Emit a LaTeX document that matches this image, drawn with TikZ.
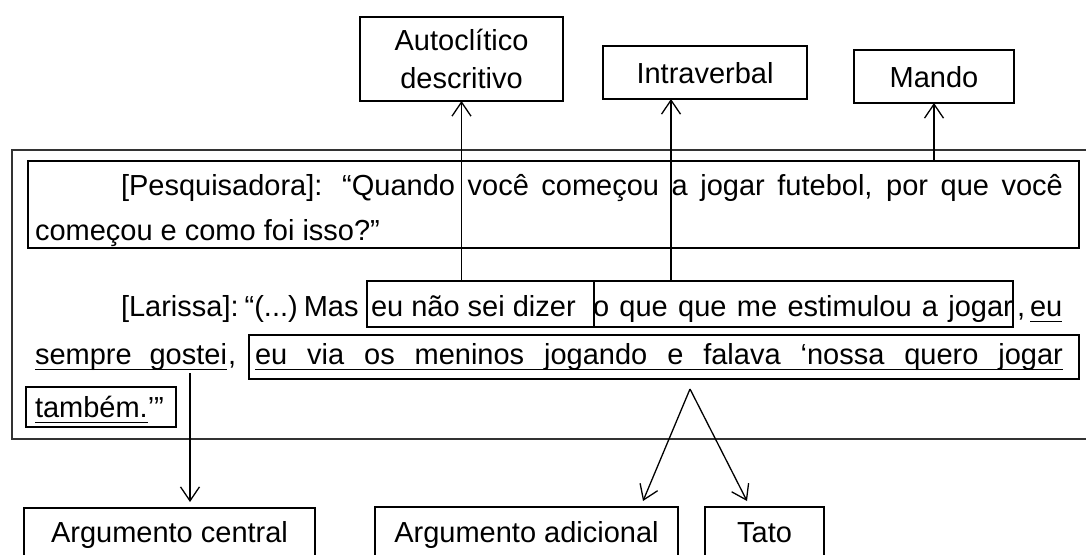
\documentclass[tikz,border=0pt]{standalone}
\usepackage{fontspec}
\setmainfont{Liberation Sans}
\usetikzlibrary{arrows.meta,calc}
\newcommand{\myjust}[2]{\makebox[#1][s]{#2}}
\newcommand{\myul}[2]{\rlap{\rule[-6pt]{#1}{1.2pt}}\makebox[#1][s]{#2}}
\newcommand{\myulnat}[1]{\setbox0\hbox{#1}\rlap{\rule[-6pt]{\wd0}{1.2pt}}\box0}
\begin{document}
\begin{tikzpicture}[x=1pt,y=-1pt,
  every node/.style={inner sep=0pt, outer sep=0pt, font=\fontsize{29}{38}\selectfont},
  lbox/.style={draw, line width=1.3pt, text height=21pt, text depth=0pt, align=center},
  tbox/.style={draw, line width=1.3pt},
  txt/.style={anchor=base west},
  arr/.style={line width=1.3pt, -{Straight Barb[length=14pt,width=19pt,line width=1.3pt]}}]
\useasboundingbox (0,0) rectangle (1086,554);
\clip (0,0) rectangle (1086,554);
% outer frame
\draw[line width=1.6pt, black!80] (12,150) rectangle (1110,439);
% Pesquisadora
\node[tbox, minimum width=1051pt, minimum height=87pt] (pesq) at (553.5,204.5) {};
\node[txt] (p1) at (121,195) {\myjust{942pt}{[Pesquisadora]: “Quando você começou a jogar futebol, por que você}};
\node[txt] (p2) at (35,240) {começou e como foi isso?”};
% Larissa
\node[txt] (l1a) at (121,316) {[Larissa]:\hspace{6pt}“(...)\hspace{6pt}Mas};
\node[txt] (l1b) at (371,316) {eu não sei dizer};
\node[txt] (l1c) at (593,316) {\myjust{420pt}{o que que me estimulou a jogar}};
\node[txt] (l1d) at (1017,316) {,};
\node[txt] (l1e) at (1030,316) {\myulnat{eu}};
\node[txt] (l2a) at (35,364) {\myul{192pt}{sempre gostei}};
\node[txt] (l2b) at (228,364) {,};
\node[txt] (l2c) at (255,364) {\myul{808pt}{eu via os meninos jogando e falava ‘nossa quero jogar}};
\node[txt] (l3) at (35,417) {\myulnat{também.}’”};
% boxes around phrases
\node[tbox, minimum width=227pt, minimum height=46pt] (b1) at (480.5,304) {};
\node[tbox, minimum width=419pt, minimum height=46pt] (b2) at (803.5,304) {};
\node[tbox, minimum width=830pt, minimum height=44pt] (b3) at (664,357) {};
\node[tbox, minimum width=150pt, minimum height=40pt] (b4) at (101,407) {};
% category boxes
\node[tbox, align=center, minimum width=203pt, minimum height=84pt] (auto) at (461.5,59) {Autoclítico\\descritivo};
\node[lbox, minimum width=204pt, minimum height=53pt] (intra) at (705,72.5) {Intraverbal};
\node[lbox, minimum width=160pt, minimum height=53pt] (mando) at (934,76.5) {Mando};
\node[lbox, minimum width=291pt, minimum height=48pt] (central) at (169.5,532) {Argumento central};
\node[lbox, minimum width=303pt, minimum height=49pt] (adic) at (526.5,531.5) {Argumento adicional};
\node[lbox, minimum width=119pt, minimum height=49pt] (tato) at (764.5,531.5) {Tato};
% connectors
\draw[arr] (auto.south |- b1.north) -- (auto.south);
\coordinate (b2t) at ($(b2.north west)+(77,0)$);
\draw[arr] (b2t) -- (b2t |- intra.south);
\draw[arr] (mando.south |- pesq.north) -- (mando.south);
\coordinate (sg) at (190,373);
\draw[arr, shorten >=6pt] (sg) -- (sg |- central.north);
\coordinate (apex) at (690,389);
\coordinate (ta) at ($(adic.north east)+(-35,-6)$);
\coordinate (tt) at ($(tato.north west)+(42,-6)$);
\draw[arr] (apex) -- (ta);
\draw[arr] (apex) -- (tt);
\end{tikzpicture}
\end{document}
